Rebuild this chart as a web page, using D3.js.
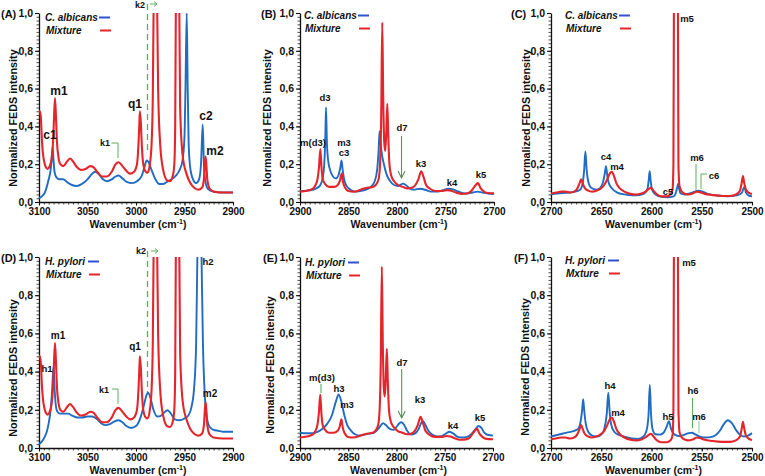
<!DOCTYPE html>
<html><head><meta charset="utf-8">
<script src="https://cdn.jsdelivr.net/npm/d3@7"></script>
<style>
body{margin:0;background:#fff}
text{font-family:"Liberation Sans",Arial,sans-serif;font-weight:bold;fill:#111}
</style>
</head><body><svg id="c" width="765" height="476"></svg>
<script>
// ---------------- DATA (wavenumber cm-1, normalized intensity) ----------------
const mixtureCH = [[3100,0.48],[3099,0.48],[3098,0.44],[3097,0.33],[3096,0.26],[3094.5,0.21],[3093,0.185],[3091,0.175],[3089,0.19],[3087,0.23],[3085.5,0.32],[3084.5,0.45],[3083.5,0.55],[3082.5,0.45],[3081.5,0.32],[3080,0.24],[3078,0.2],[3075,0.19],[3071,0.215],[3068,0.23],[3065,0.215],[3061,0.185],[3057,0.17],[3052,0.175],[3047,0.19],[3044,0.185],[3040,0.16],[3035,0.135],[3030,0.135],[3025,0.16],[3021,0.2],[3018,0.21],[3014,0.19],[3010,0.165],[3006,0.15],[3002,0.16],[2999,0.2],[2997.5,0.3],[2996.5,0.42],[2996,0.48],[2995,0.42],[2994,0.3],[2992.5,0.2],[2990,0.16],[2988,0.155],[2986,0.19],[2984,0.3],[2982.7,0.55],[2981.8,1.05],[2981,1.3],[2979,1.3],[2978.2,1.05],[2977.2,0.6],[2975,0.3],[2972,0.17],[2968,0.115],[2965,0.11],[2962,0.14],[2960.5,0.2],[2959.6,0.4],[2958.9,1.05],[2958,1.3],[2956.2,1.3],[2955.4,1.05],[2954.5,0.5],[2952,0.25],[2948,0.15],[2944,0.1],[2940,0.075],[2936,0.065],[2932,0.075],[2930,0.12],[2929,0.2],[2928.3,0.24],[2927.5,0.2],[2926.5,0.12],[2924,0.07],[2920,0.055],[2910,0.05],[2900,0.05]];

const albicansCH = [[3100,0.02],[3097,0.03],[3094,0.05],[3092,0.08],[3090,0.12],[3088,0.17],[3087,0.22],[3086,0.29],[3085,0.22],[3084,0.16],[3082,0.13],[3079,0.12],[3075,0.12],[3071,0.105],[3066,0.09],[3061,0.085],[3056,0.095],[3050,0.12],[3046,0.145],[3042,0.16],[3038,0.145],[3034,0.12],[3030,0.11],[3025,0.12],[3021,0.135],[3018,0.14],[3014,0.125],[3009,0.105],[3004,0.1],[2999,0.11],[2994,0.14],[2991,0.19],[2989,0.22],[2987,0.21],[2984,0.17],[2980,0.12],[2976,0.095],[2972,0.095],[2967,0.11],[2962,0.125],[2958,0.145],[2955,0.17],[2952,0.22],[2950,0.35],[2949,0.6],[2947.7,1.0],[2946.7,0.6],[2945.8,0.33],[2944.5,0.2],[2942,0.13],[2938,0.1],[2935,0.12],[2933,0.2],[2931.2,0.41],[2930,0.2],[2928.5,0.11],[2926,0.07],[2920,0.055],[2910,0.05],[2900,0.05]];

const pyloriCH = [[3100,0.02],[3097,0.035],[3094,0.06],[3092,0.085],[3090,0.13],[3088,0.2],[3086.5,0.3],[3085,0.43],[3083.8,0.3],[3082.8,0.23],[3081,0.19],[3078,0.18],[3074,0.18],[3070,0.18],[3066,0.17],[3061,0.16],[3056,0.16],[3050,0.165],[3045,0.165],[3040,0.15],[3036,0.13],[3032,0.12],[3027,0.125],[3022,0.14],[3018,0.145],[3014,0.135],[3010,0.115],[3005,0.105],[3000,0.115],[2996,0.15],[2992,0.22],[2989,0.28],[2987.5,0.29],[2985,0.26],[2982,0.2],[2978,0.165],[2974,0.17],[2970,0.19],[2967.5,0.198],[2964,0.18],[2960,0.15],[2955,0.145],[2950,0.155],[2946,0.17],[2943,0.21],[2940,0.32],[2938,0.55],[2936.6,1.05],[2935.6,1.3],[2933.6,1.3],[2932.6,1.05],[2931,0.55],[2929,0.27],[2927,0.16],[2924,0.11],[2920,0.095],[2915,0.09],[2910,0.085],[2905,0.085],[2900,0.085]];

const mixtureMid = [[2900,0.055],[2893,0.06],[2887,0.07],[2884,0.09],[2882,0.12],[2880.5,0.18],[2879,0.28],[2877.8,0.18],[2876.5,0.12],[2874,0.095],[2870,0.08],[2865,0.08],[2861,0.09],[2859,0.11],[2857,0.15],[2855.8,0.11],[2854,0.08],[2850,0.058],[2845,0.055],[2840,0.06],[2835,0.07],[2831,0.075],[2826,0.078],[2822,0.09],[2819,0.12],[2817.5,0.2],[2816.3,0.45],[2815.2,0.95],[2814.2,0.55],[2813.2,0.32],[2812.2,0.27],[2811.2,0.35],[2810,0.52],[2809,0.35],[2807.8,0.2],[2806,0.14],[2803,0.11],[2799,0.09],[2794,0.08],[2789,0.072],[2785,0.075],[2781,0.09],[2778,0.12],[2775,0.163],[2772.5,0.13],[2770,0.09],[2766,0.07],[2760,0.058],[2754,0.058],[2748,0.063],[2744,0.06],[2738,0.048],[2733,0.043],[2728,0.045],[2724,0.055],[2721,0.075],[2716.5,0.1],[2714,0.075],[2711,0.058],[2707,0.048],[2700,0.046]];

const albicansMid = [[2900,0.058],[2893,0.06],[2887,0.065],[2882,0.075],[2879,0.09],[2876.5,0.13],[2875,0.2],[2874,0.32],[2873.2,0.5],[2872.3,0.32],[2871,0.22],[2869,0.17],[2866,0.135],[2863,0.125],[2860.5,0.14],[2858.5,0.18],[2857.2,0.22],[2856,0.17],[2854.5,0.12],[2852,0.085],[2848,0.065],[2843,0.055],[2838,0.058],[2832,0.065],[2827,0.08],[2823,0.11],[2820.5,0.17],[2819,0.27],[2818,0.375],[2817,0.32],[2815.5,0.25],[2813.5,0.2],[2811,0.15],[2807,0.11],[2803,0.09],[2799,0.085],[2796,0.092],[2794,0.097],[2791,0.09],[2787,0.072],[2783,0.065],[2779,0.068],[2776,0.07],[2771,0.065],[2765,0.055],[2759,0.055],[2753,0.062],[2747,0.07],[2743,0.068],[2738,0.058],[2733,0.048],[2728,0.045],[2722,0.05],[2717,0.055],[2712,0.05],[2706,0.045],[2700,0.042]];

const pyloriMid = [[2900,0.08],[2893,0.077],[2887,0.078],[2882,0.085],[2877,0.1],[2872,0.125],[2867,0.17],[2863,0.24],[2860,0.28],[2857,0.24],[2854,0.17],[2851,0.12],[2847,0.09],[2843,0.072],[2838,0.065],[2833,0.07],[2828,0.075],[2823,0.08],[2819,0.1],[2816,0.12],[2814,0.13],[2811,0.12],[2807,0.1],[2803,0.095],[2800,0.11],[2797,0.13],[2795,0.135],[2792,0.12],[2789,0.09],[2785,0.07],[2781,0.075],[2777,0.1],[2774.5,0.13],[2772.5,0.14],[2770,0.12],[2767,0.09],[2763,0.07],[2758,0.06],[2753,0.062],[2749,0.075],[2745,0.085],[2741,0.075],[2737,0.06],[2732,0.055],[2727,0.058],[2722,0.075],[2718,0.1],[2715,0.115],[2712,0.105],[2709,0.08],[2705,0.068],[2700,0.065]];

const mixtureLow = [[2700,0.045],[2695,0.05],[2690,0.055],[2686,0.055],[2681,0.05],[2677,0.055],[2674,0.07],[2671.5,0.1],[2670,0.12],[2668.5,0.1],[2666.5,0.075],[2663,0.06],[2659,0.055],[2655,0.06],[2651,0.07],[2647,0.09],[2644,0.12],[2641.5,0.15],[2639.5,0.16],[2637.5,0.14],[2635,0.1],[2632,0.075],[2627,0.055],[2621,0.043],[2615,0.04],[2610,0.045],[2606,0.055],[2603,0.068],[2600.5,0.075],[2598,0.06],[2595,0.042],[2590,0.03],[2585,0.03],[2581,0.04],[2579,0.07],[2578.2,0.2],[2577.7,1.05],[2577.2,1.3],[2574.2,1.3],[2573.7,1.05],[2573.2,0.2],[2572,0.08],[2569,0.05],[2564,0.04],[2559,0.045],[2555,0.055],[2552,0.052],[2547,0.043],[2540,0.037],[2530,0.032],[2522,0.032],[2516,0.04],[2512,0.06],[2510.3,0.1],[2509,0.137],[2507.7,0.1],[2506,0.065],[2503,0.048],[2500,0.042]];

const albicansLow = [[2700,0.04],[2694,0.045],[2688,0.048],[2682,0.05],[2676,0.055],[2671,0.065],[2668.5,0.1],[2667,0.17],[2665.8,0.268],[2664.5,0.17],[2663,0.11],[2660,0.075],[2655,0.065],[2651,0.075],[2648.5,0.1],[2646.5,0.15],[2645.3,0.19],[2644,0.14],[2642.5,0.1],[2639,0.07],[2634,0.05],[2627,0.04],[2619,0.035],[2612,0.037],[2607,0.045],[2604,0.07],[2602.7,0.12],[2601.8,0.163],[2600.8,0.11],[2599.5,0.065],[2596,0.04],[2590,0.027],[2584,0.025],[2578,0.03],[2576,0.045],[2574.5,0.075],[2573.5,0.097],[2572.5,0.07],[2571,0.045],[2567,0.04],[2562,0.045],[2557,0.055],[2553,0.06],[2548,0.052],[2543,0.042],[2535,0.035],[2525,0.03],[2515,0.035],[2510,0.05],[2507.7,0.08],[2506,0.05],[2503,0.033],[2500,0.03]];

const pyloriLow = [[2700,0.06],[2694,0.068],[2688,0.076],[2682,0.083],[2677,0.09],[2673,0.1],[2670.5,0.14],[2669,0.2],[2668,0.255],[2667,0.2],[2665.5,0.13],[2663,0.085],[2659,0.065],[2654,0.06],[2650,0.07],[2647,0.1],[2644.5,0.18],[2643,0.29],[2641.5,0.18],[2640,0.12],[2637,0.085],[2633,0.07],[2627,0.06],[2620,0.05],[2613,0.048],[2608,0.06],[2605,0.09],[2603,0.17],[2601.7,0.33],[2600.5,0.18],[2599,0.1],[2596,0.072],[2592,0.07],[2588,0.08],[2585,0.11],[2582.6,0.14],[2580.5,0.1],[2577,0.07],[2572,0.062],[2567,0.07],[2563,0.078],[2560,0.08],[2556,0.07],[2551,0.058],[2546,0.055],[2541,0.057],[2536,0.068],[2532,0.09],[2528,0.125],[2524,0.145],[2520,0.13],[2516,0.095],[2512,0.07],[2508,0.06],[2504,0.065],[2500,0.078]];

const yTickValues = [0, 0.2, 0.4, 0.6, 0.8, 1.0];
const xTicksCH  = [3100, 3050, 3000, 2950, 2900];
const xTicksMid = [2900, 2850, 2800, 2750, 2700];
const xTicksLow = [2700, 2650, 2600, 2550, 2500];

// ---------------- LAYOUT ----------------
const RED = "#e4252b", BLUE = "#1f6cc2", LEG_BLUE = "#3050d0";
const GREEN = "#5fae5f", GREEN_D = "#5b8f5b", GREEN_L = "#9fd4ad";
const svg = d3.select("#c");
const defs = svg.append("defs");

const panels = [
  {id:"(A)", lx:1, x0:39, x1:233, y0:13, y1:202, dom:[3100,2900], ticks:xTicksCH,
   blue:albicansCH, red:mixtureCH, bname:"C. albicans", rname:"Mixture",
   leg:{tx:45, ty:21, lx0:99, lx1:110}, ytl:{x:17, y:118}, ytitle:"Normalized FEDS intensity"},
  {id:"(B)", lx:261, x0:300, x1:494, y0:13, y1:202, dom:[2900,2700], ticks:xTicksMid,
   blue:albicansMid, red:mixtureMid, bname:"C. albicans", rname:"Mixture",
   leg:{tx:304, ty:19, lx0:358, lx1:369}, ytl:{x:271, y:118}, ytitle:"Normalized FEDS intensity"},
  {id:"(C)", lx:511, x0:551, x1:752, y0:13, y1:202, dom:[2700,2500], ticks:xTicksLow,
   blue:albicansLow, red:mixtureLow, bname:"C. albicans", rname:"Mixture",
   leg:{tx:565, ty:19, lx0:619, lx1:630}, ytl:{x:530, y:118}, ytitle:"Normalized FEDS intensity"},
  {id:"(D)", lx:1, x0:39, x1:233, y0:257, y1:448, dom:[3100,2900], ticks:xTicksCH,
   blue:pyloriCH, red:mixtureCH, bname:"H. pylori", rname:"Mixture",
   leg:{tx:45, ty:265, lx0:88, lx1:99}, ytl:{x:17, y:368}, ytitle:"Normalized FEDS intensity"},
  {id:"(E)", lx:263, x0:300, x1:493, y0:257, y1:448, dom:[2900,2700], ticks:xTicksMid,
   blue:pyloriMid, red:mixtureMid, bname:"H. pylori", rname:"Mixture",
   leg:{tx:305, ty:266, lx0:348, lx1:359}, ytl:{x:274, y:365}, ytitle:"Normalized FEDS intensity"},
  {id:"(F)", lx:514, x0:551, x1:752, y0:257, y1:448, dom:[2700,2500], ticks:xTicksLow,
   blue:pyloriLow, red:mixtureLow, bname:"H. pylori", rname:"Mxture",
   leg:{tx:565, ty:264, lx0:608, lx1:619}, ytl:{x:529, y:367}, ytitle:"Normalized FEDS Intensity"}
];

const fmt = v => d3.format(".1f")(v).replace(".", ",");

panels.forEach((p, i) => {
  const x = d3.scaleLinear().domain(p.dom).range([p.x0, p.x1]);
  const y = d3.scaleLinear().domain([0, 1]).range([p.y1, p.y0]);
  const g = svg.append("g");

  // clip
  const cid = "clip" + i;
  defs.append("clipPath").attr("id", cid).append("rect")
    .attr("x", p.x0 - 2).attr("y", p.y0).attr("width", p.x1 - p.x0 + 4).attr("height", p.y1 - p.y0 + 4);

  // minor ticks
  const minorY = d3.range(0, 1.0001, 0.02).map(v => +v.toFixed(2));
  g.append("g").attr("transform", `translate(${p.x0},0)`)
    .call(d3.axisLeft(y).tickValues(minorY).tickSize(2.5).tickFormat(""))
    .call(s => s.select(".domain").remove())
    .selectAll("line").attr("stroke", "#222").attr("stroke-width", 0.8);
  const minorX = d3.range(p.dom[1], p.dom[0] + 0.01, 5);
  g.append("g").attr("transform", `translate(0,${p.y1})`)
    .call(d3.axisBottom(x).tickValues(minorX).tickSize(2.5).tickFormat(""))
    .call(s => s.select(".domain").remove())
    .selectAll("line").attr("stroke", "#222").attr("stroke-width", 0.8);

  // major axes
  const ya = g.append("g").attr("transform", `translate(${p.x0},0)`)
    .call(d3.axisLeft(y).tickValues(yTickValues).tickSize(4).tickPadding(2).tickSizeOuter(0).tickFormat(fmt));
  ya.select(".domain").attr("stroke", "#111").attr("stroke-width", 1.3);
  ya.selectAll("line").attr("stroke", "#111").attr("stroke-width", 1.1);
  ya.selectAll("text").attr("font-size", 10.5).attr("font-family", '"Liberation Sans",Arial,sans-serif').attr("font-weight", "bold").attr("fill", "#111");

  const xa = g.append("g").attr("transform", `translate(0,${p.y1})`)
    .call(d3.axisBottom(x).tickValues(p.ticks).tickSize(3.5).tickPadding(2).tickSizeOuter(0).tickFormat(d3.format("d")));
  xa.select(".domain").attr("stroke", "#111").attr("stroke-width", 1.3);
  xa.selectAll("line").attr("stroke", "#111").attr("stroke-width", 1.1);
  xa.selectAll("text").attr("font-size", 10).attr("font-family", '"Liberation Sans",Arial,sans-serif').attr("font-weight", "bold").attr("fill", "#111");

  // titles
  g.append("text").attr("transform", `translate(${p.ytl.x},${p.ytl.y}) rotate(-90)`)
    .attr("text-anchor", "middle").attr("font-size", 10.8).text(p.ytitle);
  const xt = g.append("text").attr("x", (p.x0 + p.x1) / 2 + 2).attr("y", p.y1 + 25.5)
    .attr("text-anchor", "middle").attr("font-size", 10.5);
  xt.append("tspan").text("Wavenumber (cm");
  xt.append("tspan").attr("font-size", 7).attr("dy", -4).text("-1");
  xt.append("tspan").attr("dy", 4).text(")");

  g.append("text").attr("x", p.lx).attr("y", p.y0 + 5).attr("font-size", 11).text(p.id);

  // curves
  const line = d3.line().x(d => x(d[0])).y(d => y(d[1])).curve(d3.curveMonotoneX);
  const cg = g.append("g").attr("clip-path", `url(#${cid})`);
  cg.append("path").datum(p.blue).attr("d", line).attr("fill", "none")
    .attr("stroke", BLUE).attr("stroke-width", 1.9).attr("stroke-linejoin", "round");
  cg.append("path").datum(p.red).attr("d", line).attr("fill", "none")
    .attr("stroke", RED).attr("stroke-width", 2.1).attr("stroke-linejoin", "round");

  // legend
  const L = p.leg;
  g.append("text").attr("x", L.tx).attr("y", L.ty).attr("font-size", 10).attr("font-style", "italic").text(p.bname);
  g.append("text").attr("x", L.tx + 1).attr("y", L.ty + 13).attr("font-size", 10).attr("font-style", "italic").text(p.rname);
  g.append("line").attr("x1", L.lx0).attr("x2", L.lx1).attr("y1", L.ty - 3.5).attr("y2", L.ty - 3.5).attr("stroke", LEG_BLUE).attr("stroke-width", 2);
  g.append("line").attr("x1", L.lx0 + 1).attr("x2", L.lx1 + 1).attr("y1", L.ty + 9.5).attr("y2", L.ty + 9.5).attr("stroke", RED).attr("stroke-width", 2);
});

// ---------------- ANNOTATIONS ----------------
const labels = [
  // A
  ["c1",50,139,12],["m1",59,95,12],["q1",135,108,12],["c2",206,120,12],["m2",215,155,12],["k1",105,146,9],["k2",140,8,9],
  // B
  ["m(d3)",313,146,9.5],["d3",325,101,9.5],["m3",344,146,9.5],["c3",344,156,9.5],["d7",402,131,9.5],["k3",421,167,9.5],["k4",452,186,9.5],["k5",481,178,9.5],
  // C
  ["c4",606,160,9.5],["m4",617,170,9.5],["c5",668,195,9.5],["m5",687,22,9.5],["m6",697,161,9.5],["c6",714,179,9.5],
  // D
  ["h1",47,372,9.5],["m1",58,339,10],["q1",135,350,10],["k1",104,393,9],["k2",141,254,9],["h2",208,265,9.5],["m2",210,397,10],
  // E
  ["m(d3)",322,381,9.5],["h3",339,392,9.5],["m3",347,408,9.5],["d7",402,366,9.5],["k3",420,403,9.5],["k4",453,429,9.5],["k5",480,421,9.5],
  // F
  ["m5",689,266,9.5],["h4",610,389,9.5],["m4",618,416,9.5],["h5",668,420,9.5],["h6",693,394,9.5],["m6",699,420,9.5]
];
svg.append("g").selectAll("text").data(labels).join("text")
  .attr("x", d => d[1]).attr("y", d => d[2]).attr("font-size", d => d[3])
  .attr("text-anchor", "middle").attr("fill", "#222").text(d => d[0]);

const greenPaths = [
  // A
  {d:"M147.5,4 V152", c:GREEN, w:1.3, dash:"6,4"},
  {d:"M150,4 H157 M154,1.5 L157,4 L154,6.5", c:GREEN, w:1},
  {d:"M111.5,143 H118 V158", c:GREEN, w:1},
  // B
  {d:"M401.5,136 V178 M398,171 L401.5,178 L405,171", c:GREEN_D, w:1.1},
  // C
  {d:"M696,164 V190", c:GREEN, w:1},
  {d:"M707,174 H701 V189", c:GREEN, w:1},
  // D
  {d:"M147.5,251 V392", c:GREEN, w:1.3, dash:"6,4"},
  {d:"M151,251 H158 M155,248.5 L158,251 L155,253.5", c:GREEN, w:1},
  {d:"M112,389 H118 V404", c:GREEN, w:1},
  // E
  {d:"M321,384 V393", c:GREEN_L, w:2},
  {d:"M401.7,369 V418 M398.2,411 L401.7,418 L405.2,411", c:GREEN_D, w:1.1},
  // F
  {d:"M692.5,398 V428", c:GREEN, w:1},
  {d:"M699,421 V433", c:GREEN_L, w:1.3}
];
svg.append("g").selectAll("path").data(greenPaths).join("path")
  .attr("d", d => d.d).attr("fill", "none").attr("stroke", d => d.c)
  .attr("stroke-width", d => d.w).attr("stroke-dasharray", d => d.dash || null);
</script>
</body></html>
